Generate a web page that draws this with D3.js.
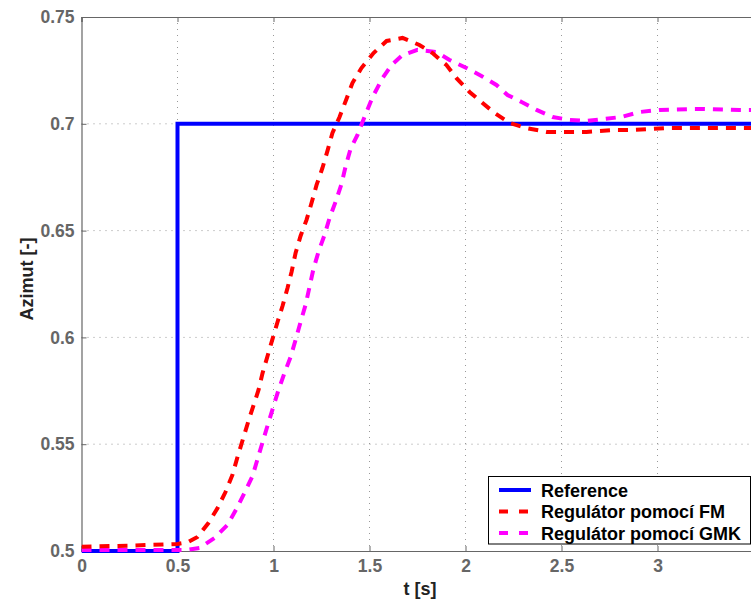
<!DOCTYPE html>
<html><head><meta charset="utf-8">
<script src="https://cdn.jsdelivr.net/npm/d3@7"></script>
<style>body{margin:0;background:#fff;}svg{display:block;font-family:"Liberation Sans",Arial,sans-serif;}</style>
</head><body><svg id="c" width="751" height="601"></svg>
<script>
const xTicks = [0, 0.5, 1, 1.5, 2, 2.5, 3];
const yTicks = [0.5, 0.55, 0.6, 0.65, 0.7, 0.75];
const seriesNames = ["Reference", "Regulátor pomocí FM", "Regulátor pomocí GMK"];
const refT = [0, 0.5, 0.5, 3.5];
const refV = [0.5, 0.5, 0.7, 0.7];
const fmT = [0, 0.25, 0.5, 0.55, 0.604, 0.661, 0.708, 0.75, 0.786, 0.8125, 0.87, 0.922, 0.943, 0.969, 0.995, 1.021, 1.047, 1.073, 1.094, 1.115, 1.141, 1.172, 1.198, 1.224, 1.255, 1.281, 1.307, 1.344, 1.38, 1.411, 1.458, 1.521, 1.589, 1.672, 1.76, 1.828, 1.901, 1.953, 2.021, 2.089, 2.151, 2.229, 2.318, 2.422, 2.526, 2.63, 2.776, 2.87, 3.052, 3.44, 3.5];
const fmV = [0.502, 0.5025, 0.5033, 0.504, 0.5066, 0.5131, 0.52, 0.5276, 0.5356, 0.544, 0.561, 0.5754, 0.5833, 0.5913, 0.5993, 0.6072, 0.6147, 0.6231, 0.6306, 0.6395, 0.6475, 0.655, 0.6629, 0.6713, 0.6793, 0.6873, 0.6957, 0.7032, 0.7116, 0.7191, 0.7261, 0.7331, 0.7388, 0.7402, 0.7369, 0.7331, 0.7275, 0.7214, 0.7149, 0.7097, 0.7051, 0.7004, 0.698, 0.6962, 0.6962, 0.6962, 0.6971, 0.6971, 0.698, 0.698, 0.698];
const gmkT = [0, 0.3, 0.55, 0.615, 0.693, 0.76, 0.807, 0.849, 0.891, 0.917, 0.97, 1.026, 1.057, 1.089, 1.115, 1.141, 1.167, 1.1875, 1.208, 1.234, 1.266, 1.292, 1.323, 1.354, 1.375, 1.401, 1.4375, 1.474, 1.516, 1.568, 1.615, 1.672, 1.75, 1.849, 1.917, 2.005, 2.083, 2.161, 2.219, 2.292, 2.37, 2.453, 2.542, 2.63, 2.714, 2.8125, 2.906, 3.01, 3.167, 3.245, 3.427, 3.5];
const gmkV = [0.5005, 0.5005, 0.5005, 0.5014, 0.5061, 0.5122, 0.5197, 0.5272, 0.5351, 0.5431, 0.559, 0.5754, 0.5833, 0.5908, 0.5988, 0.6072, 0.6152, 0.6236, 0.632, 0.64, 0.648, 0.6559, 0.6634, 0.6718, 0.6798, 0.6882, 0.6948, 0.7032, 0.7125, 0.7214, 0.7275, 0.7322, 0.7346, 0.7336, 0.7299, 0.7261, 0.7224, 0.7182, 0.7135, 0.7102, 0.7065, 0.7032, 0.7018, 0.7013, 0.7022, 0.7032, 0.7055, 0.7065, 0.7069, 0.7069, 0.7065, 0.7065];

const svg = d3.select("#c");
const L = 81.5, T = 17, B = 551, R = 753.5;
const x = d3.scaleLinear().domain([0, 3.5]).range([L, R]);
const y = d3.scaleLinear().domain([0.5, 0.75]).range([B, T]);
const axisCol = "#666";

// grid
const g = svg.append("g");
g.selectAll(".gx").data(xTicks.filter(d => d > 0)).enter().append("line")
  .attr("x1", d => x(d)).attr("x2", d => x(d)).attr("y1", T).attr("y2", B)
  .attr("stroke", "#999").attr("stroke-width", 1).attr("stroke-dasharray", "1,5");
g.selectAll(".gy").data(yTicks.filter(d => d > 0.5 && d < 0.75)).enter().append("line")
  .attr("x1", L).attr("x2", R).attr("y1", d => y(d)).attr("y2", d => y(d))
  .attr("stroke", "#999").attr("stroke-width", 1).attr("stroke-dasharray", "1,5");

// axes
const xAxis = d3.axisBottom(x).tickValues(xTicks).tickSize(-5).tickPadding(9).tickFormat(d3.format("~g"));
const xAxisTop = d3.axisTop(x).tickValues(xTicks).tickSize(-5).tickFormat("");
const yAxis = d3.axisLeft(y).tickValues(yTicks).tickSize(-5).tickPadding(7).tickFormat(d3.format("~g"));
function style(sel){
  sel.select(".domain").attr("stroke", axisCol).attr("stroke-width", 1.2);
  sel.selectAll(".tick line").attr("stroke", axisCol);
  sel.selectAll("text").attr("fill", "#666").attr("font-size", 17.5).attr("font-weight", "bold")
    .attr("font-family", "'Liberation Sans', Arial, sans-serif");
}
svg.append("g").attr("transform", `translate(0,${B})`).call(xAxis).call(style);
svg.append("g").attr("transform", `translate(0,${T})`).call(xAxisTop).call(style);
svg.append("g").attr("transform", `translate(${L},0)`).call(yAxis).call(style);

// labels
svg.append("text").attr("x", 420).attr("y", 595).attr("text-anchor", "middle")
  .attr("font-size", 18).attr("font-weight", "bold").attr("fill", "#222").text("t [s]");
svg.append("text").attr("transform", "translate(33,279) rotate(-90)").attr("text-anchor", "middle")
  .attr("font-size", 18).attr("font-weight", "bold").attr("fill", "#222").text("Azimut [-]");

// lines
svg.append("clipPath").attr("id", "clip").append("rect")
  .attr("x", L).attr("y", T - 3).attr("width", R - L).attr("height", B - T + 6);
const line = d3.line().x(d => x(d[0])).y(d => y(d[1]));
const series = [
  {pts: d3.zip(refT, refV), color: "#0000ff", dash: null},
  {pts: d3.zip(fmT, fmV), color: "#ff0000", dash: "10,8"},
  {pts: d3.zip(gmkT, gmkV), color: "#ff00ff", dash: "10,8"}
];
const lg = svg.append("g").attr("clip-path", "url(#clip)");
[series[0], series[2], series[1]].forEach(s => {
  lg.append("path").attr("d", line(s.pts)).attr("fill", "none")
    .attr("stroke", s.color).attr("stroke-width", 4).attr("stroke-dasharray", s.dash)
    .attr("stroke-linejoin", "miter");
});

// legend
const leg = svg.append("g");
leg.append("rect").attr("x", 488.5).attr("y", 476.5).attr("width", 262).attr("height", 67.5)
  .attr("fill", "#fff").attr("stroke", "#000").attr("stroke-width", 1);
seriesNames.forEach((n, i) => {
  const cy = 490 + i * 21.5;
  leg.append("line").attr("x1", 499).attr("x2", 531).attr("y1", cy).attr("y2", cy)
    .attr("stroke", series[i].color).attr("stroke-width", 4)
    .attr("stroke-dasharray", series[i].dash ? "9,11" : null);
  leg.append("text").attr("x", 541).attr("y", cy + 6.5).attr("font-size", 18)
    .attr("font-weight", "bold").attr("fill", "#000").text(n);
});
</script></body></html>
